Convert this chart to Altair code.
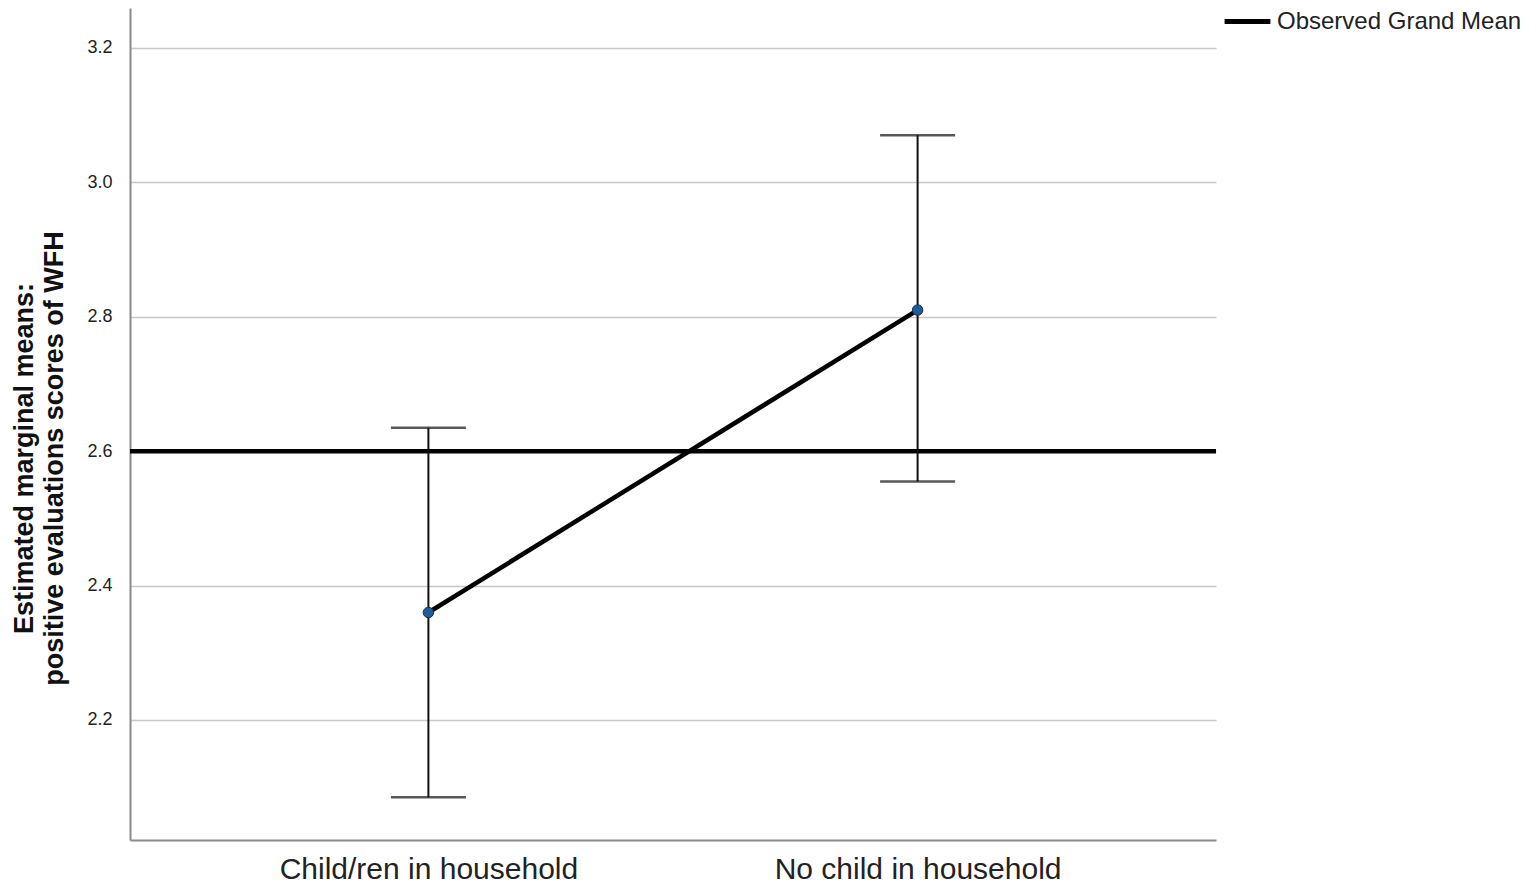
import altair as alt
import pandas as pd

groups = ["Child/ren in household", "No child in household"]
means = [2.36, 2.81]
ci_low = [2.085, 2.555]
ci_high = [2.635, 3.07]
grand_mean = [2.6]
legend_label = ["Observed Grand Mean"]
y_ticks = [2.2, 2.4, 2.6, 2.8, 3.0, 3.2]
y_title = ["Estimated marginal means:", "positive evaluations scores of WFH"]

df = pd.DataFrame({"group": groups, "mean": means, "low": ci_low, "high": ci_high})
gm = pd.DataFrame({"gm": grand_mean, "label": legend_label})

FONT = "Liberation Sans"
xscale = alt.Scale(type="point", domain=groups, padding=0.61)
yscale = alt.Scale(domain=[2.0214, 3.2595], nice=False, zero=False)

x_enc = alt.X(
    "group:N", scale=xscale, sort=groups,
    axis=alt.Axis(title=None, labelFontSize=30, labelFont=FONT, labelColor="#222222",
                  labelPadding=14, labelLimit=0, ticks=False, domainColor="#8a8a8a",
                  domainWidth=2, grid=False, labelAngle=0),
)
y_axis = alt.Axis(values=y_ticks, format=".1f", title=y_title, titleFont=FONT,
                  titleFontSize=27, titleFontWeight="bold", titleColor="#111111",
                  titleLineHeight=30, titlePadding=18, titleY=450,
                  labelFont=FONT, labelFontSize=18, labelColor="#222222", labelPadding=18,
                  ticks=False, domainColor="#8a8a8a", domainWidth=2,
                  grid=True, gridColor="#c8c8c8", gridWidth=1.5)

gm_rule = alt.Chart(gm).mark_rule(strokeWidth=4.5).encode(
    y=alt.Y("gm:Q", scale=yscale, axis=y_axis),
    color=alt.Color("label:N", scale=alt.Scale(range=["#000000"]),
                    legend=alt.Legend(title=None, orient="none", legendX=1092, legendY=-12,
                                      symbolType="stroke", symbolStrokeWidth=5,
                                      symbolSize=2100, labelFont=FONT, labelFontSize=24,
                                      labelLimit=0, labelColor="#222222", labelOffset=4)),
)

base = alt.Chart(df).encode(x=x_enc)

err = base.mark_rule(strokeWidth=2, color="#111111").encode(
    y=alt.Y("low:Q", scale=yscale), y2="high:Q")
cap_lo = base.mark_tick(size=75, thickness=2.5, color="#111111").encode(
    y=alt.Y("low:Q", scale=yscale))
cap_hi = base.mark_tick(size=75, thickness=2.5, color="#111111").encode(
    y=alt.Y("high:Q", scale=yscale))
line = base.mark_line(strokeWidth=4.5, color="#000000").encode(
    y=alt.Y("mean:Q", scale=yscale))
pts = base.mark_point(filled=True, size=110, fill="#1f5c99", stroke="#0e2f52",
                      strokeWidth=1, opacity=1).encode(y=alt.Y("mean:Q", scale=yscale))

chart = alt.layer(gm_rule, err, cap_lo, cap_hi, line, pts).properties(
    width=1086, height=832,
    autosize=alt.AutoSizeParams(type="none"),
    padding={"left": 122, "top": 0, "right": 312, "bottom": 44},
).configure_view(stroke=None)

chart.save("out.html", embed_options={"renderer": "svg", "actions": False})
